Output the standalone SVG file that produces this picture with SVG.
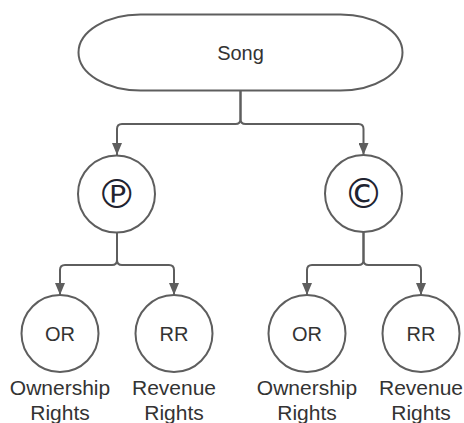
<svg xmlns="http://www.w3.org/2000/svg" width="464" height="423" viewBox="0 0 464 423">
<defs>
<marker id="arr" markerWidth="12" markerHeight="10" refX="12" refY="5" orient="auto" markerUnits="userSpaceOnUse" viewBox="0 0 12 10">
<path d="M0,0 L12,5 L0,10 Z" fill="#5e5e5e"/>
</marker>
</defs>
<style>
.shape{fill:#fff;stroke:#5e5e5e;stroke-width:2}
.conn{fill:none;stroke:#5e5e5e;stroke-width:2}
.t{font-family:"Liberation Sans",Arial,sans-serif;font-size:20px;fill:#333;text-anchor:middle}
.lbl{font-family:"Liberation Sans",Arial,sans-serif;font-size:21px;fill:#333;text-anchor:middle}
.sym{font-family:"DejaVu Sans",sans-serif;font-size:40px;fill:#1f2330;text-anchor:middle}
</style>
<rect width="464" height="423" fill="#fff"/>
<g id="connectors">
<path class="conn" d="M240.5,91 V119 Q240.5,124 235.5,124 H122 Q117,124 117,129 V155" marker-end="url(#arr)"/>
<path class="conn" d="M240.5,91 V119 Q240.5,124 245.5,124 H358.5 Q363.5,124 363.5,129 V155" marker-end="url(#arr)"/>
<path class="conn" d="M117,233 V260 Q117,265 112,265 H65 Q60,265 60,270 V295" marker-end="url(#arr)"/>
<path class="conn" d="M117,233 V260 Q117,265 122,265 H169 Q174,265 174,270 V295" marker-end="url(#arr)"/>
<path class="conn" d="M363.5,232 V260 Q363.5,265 358.5,265 H312 Q307,265 307,270 V295" marker-end="url(#arr)"/>
<path class="conn" d="M363.5,232 V260 Q363.5,265 368.5,265 H416 Q421,265 421,270 V295" marker-end="url(#arr)"/>
</g>
<g id="song">
<rect class="shape" x="78.5" y="14.5" width="324" height="76" rx="62" ry="38"/>
<text class="t" x="240.5" y="59.5">Song</text>
</g>
<g id="phonogram">
<circle class="shape" cx="116.5" cy="194" r="38.5"/>
<text class="sym" x="116.5" y="208">℗</text>
</g>
<g id="copyright">
<circle class="shape" cx="363.5" cy="193.5" r="38.5"/>
<text class="sym" x="363.5" y="207.5">©</text>
</g>
<g id="or1">
<circle class="shape" cx="60" cy="333.5" r="38.5"/>
<text class="t" x="60" y="340.5">OR</text>
<text class="lbl" x="60" y="395">Ownership</text>
<text class="lbl" x="60" y="420">Rights</text>
</g>
<g id="rr1">
<circle class="shape" cx="174" cy="333.5" r="38.5"/>
<text class="t" x="174" y="340.5">RR</text>
<text class="lbl" x="174" y="395">Revenue</text>
<text class="lbl" x="174" y="420">Rights</text>
</g>
<g id="or2">
<circle class="shape" cx="307" cy="333.5" r="38.5"/>
<text class="t" x="307" y="340.5">OR</text>
<text class="lbl" x="307" y="395">Ownership</text>
<text class="lbl" x="307" y="420">Rights</text>
</g>
<g id="rr2">
<circle class="shape" cx="421" cy="333.5" r="38.5"/>
<text class="t" x="421" y="340.5">RR</text>
<text class="lbl" x="421" y="395">Revenue</text>
<text class="lbl" x="421" y="420">Rights</text>
</g>
</svg>
